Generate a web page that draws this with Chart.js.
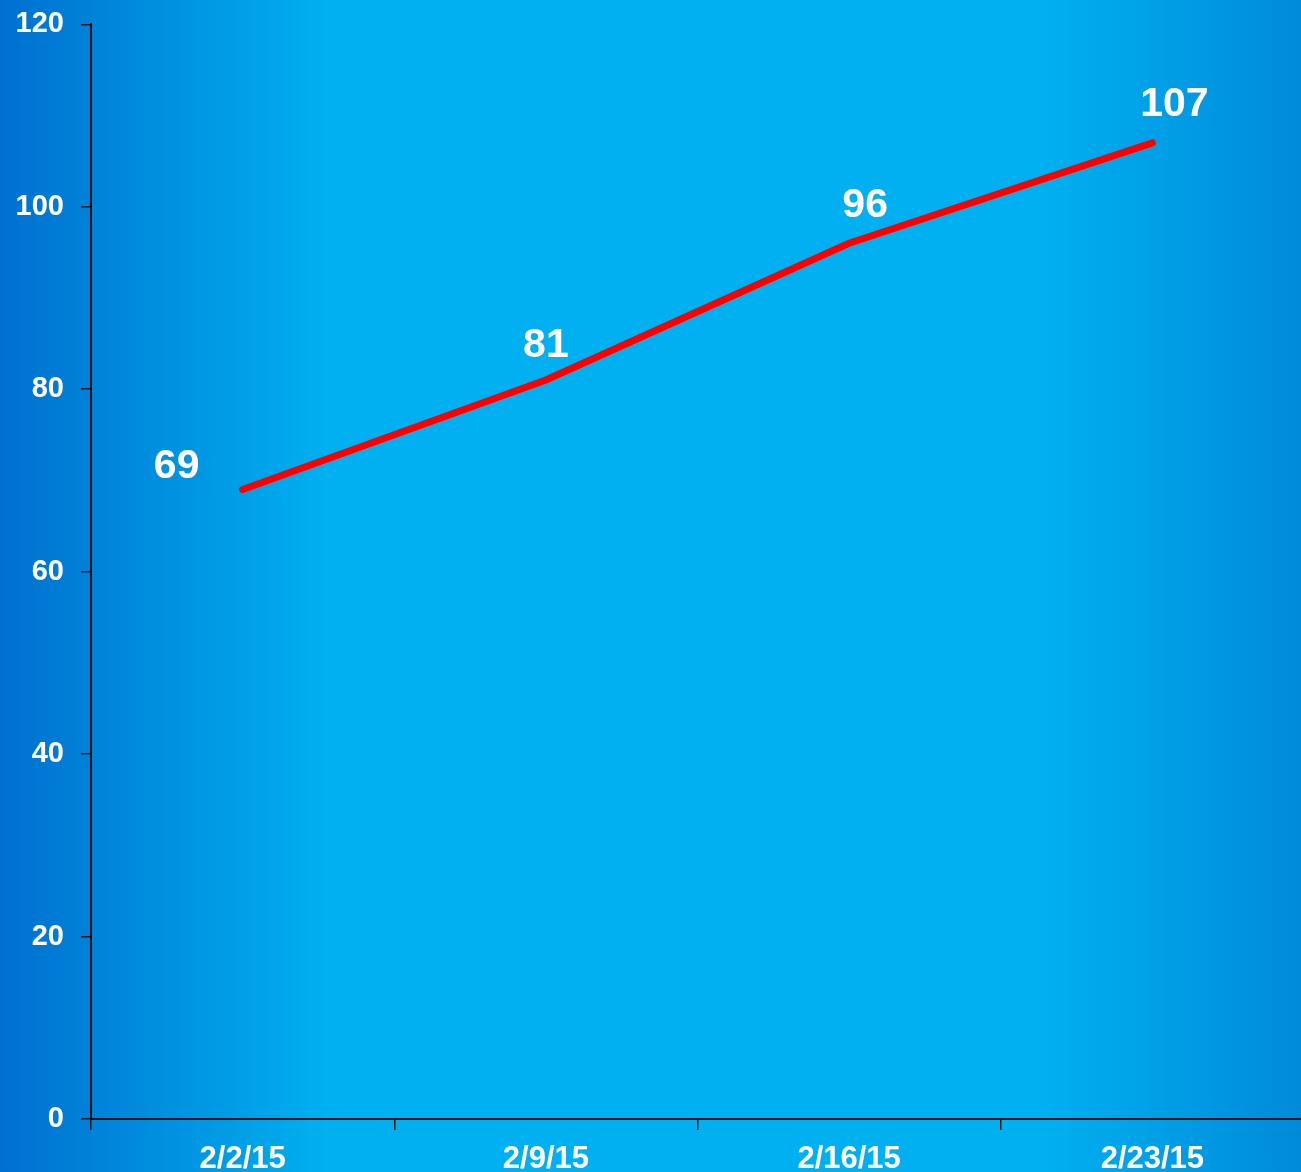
<!DOCTYPE html>
<html>
<head>
<meta charset="utf-8">
<script src="https://cdn.jsdelivr.net/npm/chart.js@4.4.1/dist/chart.umd.min.js"></script>
<style>
  html, body { margin: 0; padding: 0; overflow: hidden; background: #00b0f0; }
  #wrap { width: 1305px; height: 1172px; }
</style>
</head>
<body>
<div id="wrap"><canvas id="lineChart"></canvas></div>
<script>
const dates = ['2/2/15', '2/9/15', '2/16/15', '2/23/15'];
const counts = [69, 81, 96, 107];
const yTicks = [0, 20, 40, 60, 80, 100, 120];

// label nudges (px) so the numbers sit like in the original
const labelShift = [[-66, -23], [0, -34], [16, -38], [22, -38]];

const bgPlugin = {
  id: 'bg',
  beforeDraw(chart) {
    const ctx = chart.ctx;
    const w = chart.width;
    const g = ctx.createLinearGradient(0, 0, w, 0);
    g.addColorStop(0, '#0070d0');
    g.addColorStop(0.25, '#00b0f0');
    g.addColorStop(0.8, '#00b0f0');
    g.addColorStop(1, '#008ada');
    ctx.save();
    ctx.fillStyle = g;
    ctx.fillRect(0, 0, w, chart.height);
    ctx.restore();
  }
};

const valueLabels = {
  id: 'valueLabels',
  afterDatasetsDraw(chart) {
    const ctx = chart.ctx;
    const meta = chart.getDatasetMeta(0);
    ctx.save();
    ctx.font = 'bold 41px "Liberation Sans", Arial, sans-serif';
    ctx.fillStyle = '#ffffff';
    ctx.textAlign = 'center';
    ctx.textBaseline = 'middle';
    meta.data.forEach((pt, i) => {
      const [dx, dy] = labelShift[i];
      ctx.fillText(String(counts[i]), pt.x + dx, pt.y + dy);
    });
    ctx.restore();
  }
};

new Chart(document.getElementById('lineChart'), {
  type: 'line',
  data: {
    labels: dates,
    datasets: [{
      data: counts,
      borderColor: '#ff0000',
      borderWidth: 7,
      borderCapStyle: 'round',
      borderJoinStyle: 'round',
      pointRadius: 0,
      tension: 0
    }]
  },
  options: {
    responsive: true,
    maintainAspectRatio: false,
    animation: false,
    layout: { padding: { top: 24, right: 1, left: 0, bottom: 0 } },
    plugins: {
      legend: { display: false },
      tooltip: { enabled: false }
    },
    scales: {
      x: {
        offset: true,
        grid: { offset: true, drawOnChartArea: false, drawTicks: true, tickLength: 11, color: '#1a1a1a', lineWidth: 1.5 },
        border: { color: '#111111', width: 2 },
        ticks: {
          color: '#ffffff',
          padding: 11,
          maxRotation: 0,
          font: { family: '"Liberation Sans", Arial, sans-serif', size: 31, weight: 'bold' }
        },
        afterFit(scale) { scale.height = 53; }
      },
      y: {
        min: 0,
        max: 120,
        afterBuildTicks(scale) { scale.ticks = yTicks.map(v => ({ value: v })); },
        grid: { drawOnChartArea: false, drawTicks: true, tickLength: 10, color: '#1a1a1a', lineWidth: 1.5 },
        border: { color: '#111111', width: 2 },
        ticks: {
          color: '#ffffff',
          padding: 17,
          font: { family: '"Liberation Sans", Arial, sans-serif', size: 29, weight: 'bold', lineHeight: 0.5 }
        },
        afterFit(scale) { scale.width = 91; }
      }
    }
  },
  plugins: [bgPlugin, valueLabels]
});
</script>
</body>
</html>
